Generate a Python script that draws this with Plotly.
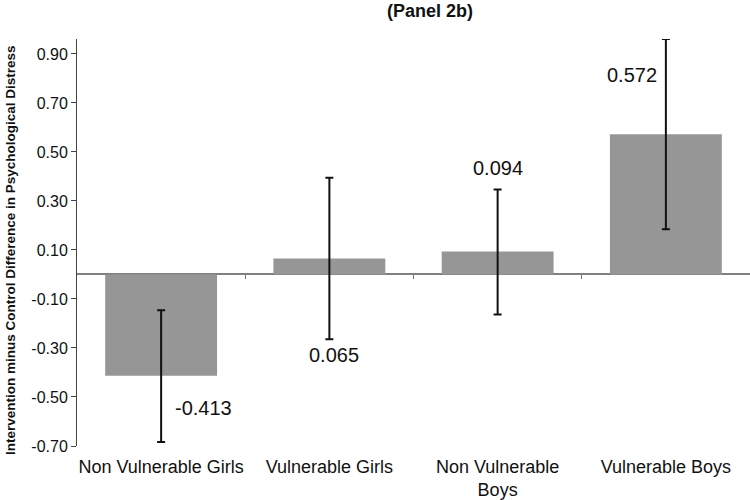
import plotly.graph_objects as go

categories = ["Non Vulnerable Girls", "Vulnerable Girls", "Non Vulnerable<br>Boys", "Vulnerable Boys"]
values = [-0.413, 0.065, 0.094, 0.572]
ci_lower = [-0.684, -0.264, -0.163, 0.185]
ci_upper = [-0.146, 0.395, 0.347, 0.961]
value_labels = ["-0.413", "0.065", "0.094", "0.572"]
y_ticks = [-0.70, -0.50, -0.30, -0.10, 0.10, 0.30, 0.50, 0.70, 0.90]

# label placement offsets (layout only)
label_dx = [0.25, 0.03, 0.0, -0.20]
label_y = [-0.546, -0.33, 0.434, 0.814]

err_plus = [u - v for u, v in zip(ci_upper, values)]
err_minus = [v - l for v, l in zip(values, ci_lower)]

ymin, ymax = -0.70, 0.961
W, H = 750, 500

fig = go.Figure()
fig.add_trace(go.Bar(
    x=list(range(len(categories))), y=values,
    marker=dict(color="#969696", line=dict(width=0)),
    error_y=dict(type="data", array=err_plus, arrayminus=err_minus,
                 color="#111111", thickness=2, width=4, visible=True),
    showlegend=False, hoverinfo="skip",
))
# invisible trace to carry the zero-line tick axis
fig.add_trace(go.Scatter(x=[0], y=[0], xaxis="x2", mode="markers",
                         marker=dict(opacity=0), showlegend=False, hoverinfo="skip"))

for i, (lab, dx, ly) in enumerate(zip(value_labels, label_dx, label_y)):
    fig.add_annotation(x=i + dx, y=ly, xref="x", yref="y", text=lab, showarrow=False,
                       font=dict(family="Arial, Liberation Sans", size=20, color="#111111"),
                       xanchor="center", yanchor="middle")

fig.add_annotation(
    x=(10 - 77) / 673, y=(446 - 250) / 407, xref="paper", yref="paper",
    text="<b>Intervention minus Control Difference in Psychological Distress</b>",
    textangle=-90, showarrow=False, xanchor="center", yanchor="middle",
    font=dict(family="Arial, Liberation Sans", size=13.5, color="#111111"))

fig.update_layout(
    template="none",
    width=W, height=H,
    margin=dict(l=77, r=0, t=39, b=54, autoexpand=False),
    paper_bgcolor="white", plot_bgcolor="white",
    bargap=0.335,
    title=dict(text="<b>(Panel 2b)</b>", x=430 / W, xref="container", xanchor="center",
               y=1 - 11 / H, yref="container", yanchor="middle",
               font=dict(family="Arial, Liberation Sans", size=18, color="#111111")),
    font=dict(family="Arial, Liberation Sans", color="#111111"),
    xaxis=dict(
        tickmode="array", tickvals=list(range(len(categories))), ticktext=categories,
        range=[-0.5, 3.5], showgrid=False, zeroline=False, showline=False,
        ticks="outside", ticklen=4, tickcolor="rgba(0,0,0,0)", automargin=False,
        tickfont=dict(size=18, color="#111111"),
    ),
    xaxis2=dict(
        overlaying="x", anchor="free", position=(0 - ymin) / (ymax - ymin),
        range=[-0.5, 3.5], tickmode="array", tickvals=[0.5, 1.5, 2.5],
        ticks="outside", ticklen=4, tickcolor="#777777", tickwidth=1,
        showticklabels=False, showgrid=False, zeroline=False, showline=False,
        automargin=False,
    ),
    yaxis=dict(
        range=[ymin, ymax], tickmode="array", tickvals=y_ticks,
        ticktext=[f"{t:.2f}" for t in y_ticks], automargin=False,
        showgrid=False, zeroline=True, zerolinecolor="#808080", zerolinewidth=1.5,
        showline=True, linecolor="#444444", linewidth=1,
        ticks="outside", ticklen=5, tickcolor="#444444",
        tickfont=dict(size=16, color="#111111"),
    ),
)

# remove the default page margin so the figure sits at the window's top-left corner
fig.write_html("out.html", config={"displayModeBar": False},
               post_script="document.body.style.margin='0';")
